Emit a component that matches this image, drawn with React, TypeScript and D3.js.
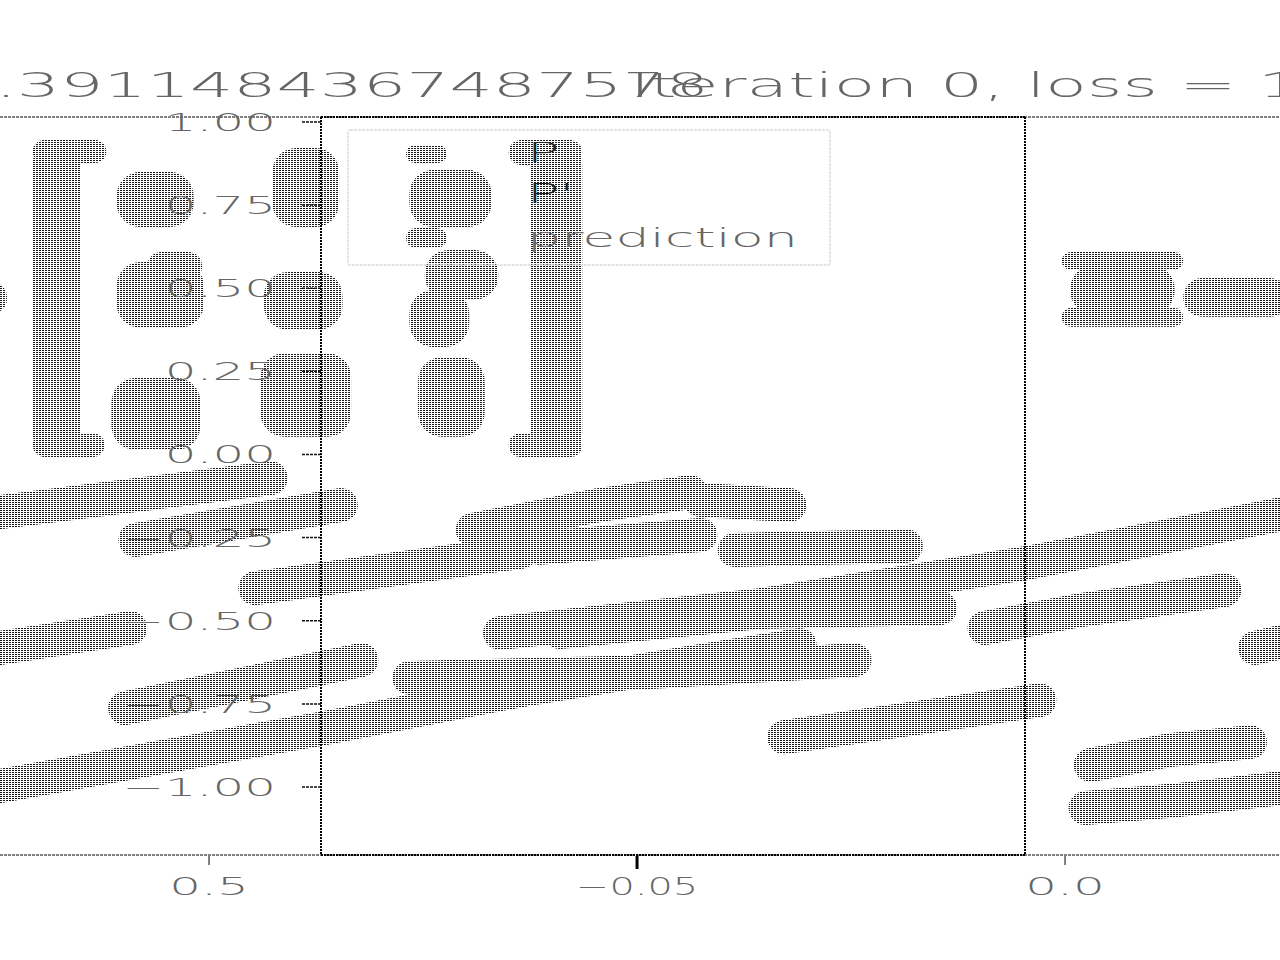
import * as d3 from "d3"

// ---- data ----
const titleText = "Iteration 0, loss = 1.3911484367487578"
const yTicks = [-1, -0.75, -0.5, -0.25, 0, 0.25, 0.5, 0.75, 1]
const xTicks = [0.5, 0.25, 0]
const xTickLabels = ["0.5", "−0.05", "0.0"]
const legendLabels = ["P", "P'", "prediction"]
const xLimits = [0.4346, 0.0234]
const yLimits = [-1.2045, 1.015]

// thick smeared strokes (x, y in axis units)
const strokes: [number, number][][] = [
  [[0.622, -0.173], [0.464, -0.071]],
  [[0.543, -0.257], [0.423, -0.152]],
  [[0.622, -0.582], [0.546, -0.522]],
  [[0.549, -0.763], [0.411, -0.618]],
  [[0.622, -0.997], [0.433, -0.823], [0.318, -0.709]],
  [[0.473, -0.402], [0.318, -0.293]],
  [[0.346, -0.227], [0.272, -0.152], [0.219, -0.113]],
  [[0.307, -0.281], [0.213, -0.242]],
  [[0.213, -0.137], [0.161, -0.152]],
  [[0.193, -0.287], [0.093, -0.275]],
  [[0.33, -0.537], [0.178, -0.453], [0.022, -0.326], [-0.127, -0.179]],
  [[0.295, -0.534], [0.178, -0.474], [0.073, -0.462]],
  [[0.383, -0.672], [0.242, -0.654], [0.123, -0.618]],
  [[0.318, -0.709], [0.155, -0.573]],
  [[0.164, -0.85], [0.015, -0.739]],
  [[0.047, -0.522], [-0.009, -0.468], [-0.093, -0.408]],
  [[-0.111, -0.582], [-0.131, -0.558]],
  [[-0.015, -0.934], [-0.061, -0.889], [-0.108, -0.865]],
  [[-0.012, -1.063], [-0.067, -1.039], [-0.127, -1.003]],
]

// blurred matrix glyphs: [xLeft, xRight, yTop, yBottom]
const glyphBlobs: [number, number, number, number][] = [
  [0.603, 0.575, 0.946, -0.008],
  [0.603, 0.56, 0.946, 0.877],
  [0.603, 0.561, 0.065, -0.008],
  [0.554, 0.509, 0.85, 0.684],
  [0.554, 0.503, 0.579, 0.381],
  [0.536, 0.504, 0.609, 0.525],
  [0.557, 0.505, 0.23, 0.014],
  [0.463, 0.424, 0.922, 0.684],
  [0.468, 0.422, 0.549, 0.375],
  [0.47, 0.417, 0.305, 0.053],
  [0.385, 0.361, 0.931, 0.877],
  [0.383, 0.335, 0.856, 0.684],
  [0.385, 0.361, 0.681, 0.621],
  [0.374, 0.331, 0.615, 0.465],
  [0.383, 0.348, 0.495, 0.323],
  [0.378, 0.339, 0.293, 0.053],
  [0.312, 0.282, 0.946, -0.008],
  [0.325, 0.282, 0.946, 0.871],
  [0.325, 0.282, 0.065, -0.008],
  [0.634, 0.618, 0.516, 0.426],
  [0.002, -0.069, 0.609, 0.555],
  [-0.003, -0.064, 0.57, 0.42],
  [0.002, -0.069, 0.441, 0.384],
  [-0.069, -0.131, 0.531, 0.414],
]

const W = 1280
const H = 960
const fontFamily = "DejaVu Sans"
const textColor = "#666"

export default function App() {
  const x = d3.scaleLinear().domain(xLimits).range([321, 1025])
  const y = d3.scaleLinear().domain(yLimits).range([855, 117])
  const line = d3
    .line<[number, number]>()
    .x((d) => x(d[0]))
    .y((d) => y(d[1]))
  const fmt = d3.format(".2f")

  const top = y(yLimits[1])
  const bottom = y(yLimits[0])
  const left = x(xLimits[0])
  const right = x(xLimits[1])

  return (
    <div style={{ position: "absolute", left: 0, top: 0 }}>
      <svg width={W} height={H} style={{ display: "block", background: "#fff" }}>
        <defs>
          <pattern id="dither" width={3} height={2} patternUnits="userSpaceOnUse">
            <rect width={2} height={1} fill="#1a1a1a" />
          </pattern>
        </defs>

        {/* smeared glyph blobs */}
        <g fill="url(#dither)">
          {glyphBlobs.map((b, i) => {
            const x0 = Math.min(x(b[0]), x(b[1]))
            const x1 = Math.max(x(b[0]), x(b[1]))
            const y0 = y(b[2])
            const y1 = y(b[3])
            const r = Math.min(24, (y1 - y0) / 2, (x1 - x0) / 2)
            return <rect key={i} x={x0} y={y0} width={x1 - x0} height={y1 - y0} rx={r} ry={r} />
          })}
        </g>

        {/* smeared strokes */}
        <g fill="none" stroke="url(#dither)" strokeWidth={34} strokeLinecap="round" strokeLinejoin="round">
          {strokes.map((s, i) => (
            <path key={i} d={line(s) ?? ""} />
          ))}
        </g>

        {/* spines */}
        <g stroke="#000" fill="none">
          <line x1={0} x2={W} y1={top} y2={top} strokeWidth={1} strokeDasharray="3,1" />
          <line x1={0} x2={W} y1={bottom} y2={bottom} strokeWidth={1} strokeDasharray="3,1" />
          <line x1={left} x2={right} y1={top} y2={top} strokeWidth={2} strokeDasharray="2,1" />
          <line x1={left} x2={right} y1={bottom} y2={bottom} strokeWidth={2} strokeDasharray="2,1" />
          <line x1={left} x2={left} y1={top} y2={bottom} strokeWidth={2} strokeDasharray="2,1" />
          <line x1={right} x2={right} y1={top} y2={bottom} strokeWidth={2} strokeDasharray="2,1" />
        </g>

        {/* y ticks */}
        <g stroke="#111" strokeWidth={1.5}>
          {yTicks.map((t) => (
            <line key={t} x1={left - 19} x2={left} y1={y(t)} y2={y(t)} strokeDasharray="3,1" />
          ))}
        </g>
        <g fill={textColor} fontFamily={fontFamily} fontWeight={200} fontSize={25} textAnchor="end">
          {yTicks.map((t) => (
            <g key={t} transform={`translate(${left - 45},${y(t) + 9}) scale(2,1)`}>
              <text>{fmt(t)}</text>
            </g>
          ))}
        </g>

        {/* x ticks */}
        {xTicks.map((t, i) => (
          <g key={t}>
            <line
              x1={x(t)}
              x2={x(t)}
              y1={bottom + 1}
              y2={bottom + (i === 1 ? 14 : 10)}
              stroke={i === 1 ? "#000" : "#555"}
              strokeWidth={i === 1 ? 3 : 1.5}
            />
            <g transform={`translate(${x(t)},${bottom + 40}) scale(2,1)`}>
              <text
                fill={textColor}
                fontFamily={fontFamily}
                fontWeight={200}
                fontSize={25}
                textAnchor="middle"
                {...(i === 1 ? { textLength: 61, lengthAdjust: "spacingAndGlyphs" } : {})}
              >
                {xTickLabels[i]}
              </text>
            </g>
          </g>
        ))}

        {/* legend */}
        <rect x={348} y={130} width={482} height={135} fill="none" stroke="#dadada" strokeWidth={1.5} strokeDasharray="3,1" rx={2} />
        <g fontFamily={fontFamily} fontWeight={200} fontSize={27}>
          {legendLabels.map((l, i) => (
            <g key={l} transform={`translate(527,${[162, 203, 247][i]}) scale(2,1)`}>
              <text fill={i < 2 ? "#222" : textColor}>{l}</text>
            </g>
          ))}
        </g>

        {/* title, drawn twice side by side */}
        <g fill={textColor} fontFamily={fontFamily} fontWeight={200} fontSize={34}>
          <g transform="translate(-676,97) scale(2,1)">
            <text>{titleText}</text>
          </g>
          <g transform="translate(630,97) scale(2,1)">
            <text>{titleText}</text>
          </g>
        </g>
      </svg>
    </div>
  )
}
